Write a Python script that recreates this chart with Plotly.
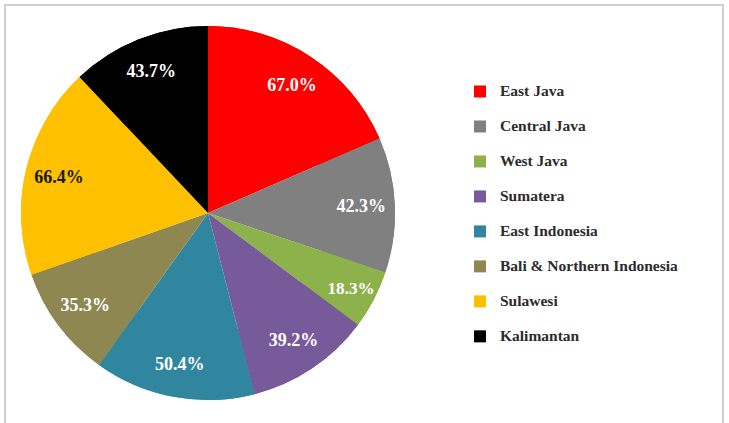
import plotly.graph_objects as go

regions = ["East Java", "Central Java", "West Java", "Sumatera", "East Indonesia",
           "Bali & Northern Indonesia", "Sulawesi", "Kalimantan"]
values = [67.0, 42.3, 18.3, 39.2, 50.4, 35.3, 66.4, 43.7]
colors = ["#FF0000", "#808080", "#8DB14B", "#775A9A", "#2F869E", "#8E8752", "#FFC000", "#000000"]
text_colors = ["white", "white", "white", "white", "white", "white", "#1a1a1a", "white"]

W, H = 729, 423
cx, cy, r = 208, 213, 187
domain = dict(x=[(cx - r) / W, (cx + r) / W], y=[(H - cy - r) / H, (H - cy + r) / H])

legend_labels = [f"<span style='font-size:15.5px'><b>{n}</b></span><br> " for n in regions]

# full pie (solid slices)
base = go.Pie(
    labels=legend_labels,
    values=values,
    textinfo="none",
    marker=dict(colors=colors, line=dict(width=0)),
    sort=False, direction="clockwise", rotation=0,
    hoverinfo="skip",
    domain=domain,
    showlegend=True,
)
# ring on top carrying the labels near the outer edge
ring = go.Pie(
    labels=legend_labels,
    values=values,
    hole=0.64,
    text=[f"<b>{v:.1f}%</b>" for v in values],
    textinfo="text",
    textposition="inside",
    insidetextorientation="horizontal",
    insidetextfont=dict(family="Liberation Serif", size=18, color=text_colors),
    marker=dict(colors=colors, line=dict(width=0)),
    sort=False, direction="clockwise", rotation=0,
    hoverinfo="skip",
    domain=domain,
    showlegend=False,
)

fig = go.Figure([base, ring])

fig.update_layout(
    width=W, height=H,
    margin=dict(l=0, r=0, t=0, b=0),
    paper_bgcolor="white",
    plot_bgcolor="white",
    showlegend=True,
    legend=dict(
        x=460 / W, y=1 - 77 / H, xanchor="left", yanchor="top",
        font=dict(family="Liberation Serif", size=12.3, color="#2b2b2b"),
        valign="top",
        bgcolor="rgba(0,0,0,0)",
    ),
    shapes=[dict(type="rect", xref="paper", yref="paper",
                 x0=5 / W, x1=723 / W, y0=-0.1, y1=1 - 5 / H,
                 line=dict(color="#cfcfcf", width=2))],
)

fig.write_html("out.html")
